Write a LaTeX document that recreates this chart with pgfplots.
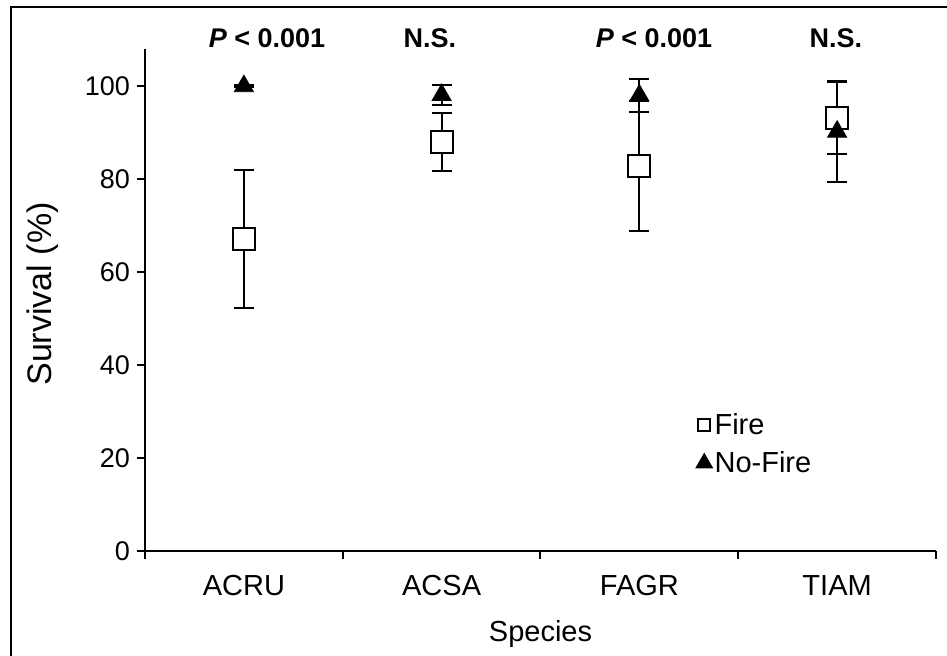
\documentclass[border=0pt]{standalone}
\usepackage{pgfplots}
\pgfplotsset{compat=1.18}
\usepackage{fontspec}
\setmainfont{Liberation Sans}
\begin{document}
\begin{tikzpicture}
\begin{axis}[
  name=ax,
  scale only axis,
  width=395.5pt, height=251pt,
  xmin=-0.5, xmax=3.5, ymin=0, ymax=108,
  axis x line*=bottom, axis y line*=left,
  axis line style={line width=1pt, -},
  xtick={0,1,2,3},
  xticklabels={ACRU,ACSA,FAGR,TIAM},
  minor xtick={-0.5,0.5,1.5,2.5,3.5},
  ytick={0,20,40,60,80,100},
  tick align=outside,
  major tick length=4pt, minor tick length=4pt,
  major x tick style={draw=none},
  tick style={line width=1pt, black},
  tick label style={font=\fontsize{13.5}{16}\selectfont},
  xticklabel style={font=\fontsize{14.5}{17}\selectfont, yshift=-4.5pt},
  /pgf/number format/assume math mode=true,
  xlabel={Species},
  ylabel={Survival (\%)},
  xlabel style={font=\fontsize{14.5}{17}\selectfont, at={(axis description cs:0.5,-0.165)}, anchor=center},
  ylabel style={font=\fontsize{17}{20}\selectfont, at={(axis description cs:-0.1296,0.512)}, anchor=center},
  clip=false,
  legend style={draw=none, fill=none, at={(rel axis cs:0.696,0.213)}, anchor=west,
    font=\fontsize{14.5}{17}\selectfont, inner sep=0pt, row sep=5pt,
    nodes={inner sep=1pt}},
  legend cell align=left,
]
\addplot[only marks, mark=square*, mark size=5.5pt,
  mark options={fill=white, draw=black, line width=1pt},
  legend image code/.code={\draw[mark=square*, mark size=3pt, mark options={fill=white, draw=black, line width=0.8pt}] plot coordinates {(0pt,0pt)};},
  error bars/.cd, y dir=both, y explicit, error mark=-,
  error mark options={mark size=5pt, line width=1pt, black, rotate=90},
  error bar style={line width=1pt, black}]
  coordinates {
  (0,67.1) +- (0,14.8)
  (1,88.0) +- (0,6.2)
  (2,82.8) +- (0,14.0)
  (3,93.2) +- (0,7.9)
  };
\addlegendentry{Fire}
\addplot[only marks, mark=triangle*, mark size=5.5pt,
  mark options={fill=black, draw=black},
  legend image code/.code={\draw[mark=triangle*, mark size=4.8pt, mark options={fill=black, draw=black}] plot coordinates {(0pt,0pt)};},
  error bars/.cd, y dir=both, y explicit, error mark=-,
  error mark options={mark size=5pt, line width=1pt, black, rotate=90},
  error bar style={line width=1pt, black}]
  coordinates {
  (0,100) +- (0,0.2)
  (1,98.1) +- (0,2.1)
  (2,98.0) +- (0,3.6)
  (3,90.2) +- (0,10.8)
  };
\addlegendentry{No-Fire}
\node[font=\fontsize{13.5}{16}\selectfont\bfseries] at (axis cs:0.117,110.3) {\textit{P} < 0.001};
\node[font=\fontsize{13.5}{16}\selectfont\bfseries] at (axis cs:0.941,110.3) {N.S.};
\node[font=\fontsize{13.5}{16}\selectfont\bfseries] at (axis cs:2.074,110.3) {\textit{P} < 0.001};
\node[font=\fontsize{13.5}{16}\selectfont\bfseries] at (axis cs:2.994,110.3) {N.S.};
\end{axis}
\pgfresetboundingbox
\path[use as bounding box] ([shift={(-72.5pt,-52.5pt)}]ax.south west) rectangle ([shift={(401pt,275.5pt)}]ax.south west);
\draw[line width=1.3pt] ([shift={(-67pt,-53pt)}]ax.south west) -- ([shift={(-67pt,272pt)}]ax.south west) -- ([shift={(402pt,272pt)}]ax.south west);
\end{tikzpicture}
\end{document}
